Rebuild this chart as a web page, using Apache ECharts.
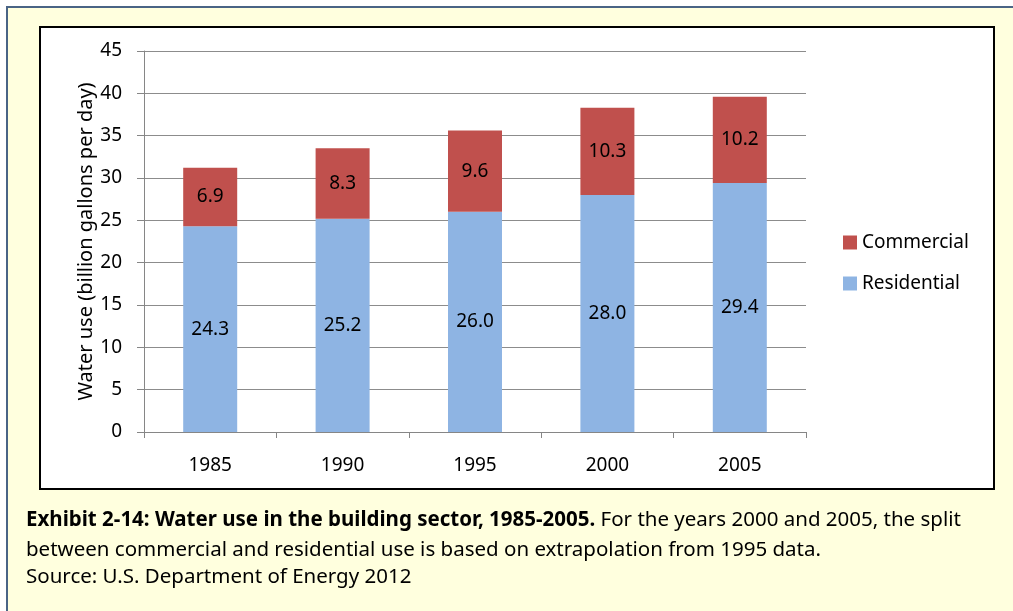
<!DOCTYPE html>
<html>
<head>
<meta charset="utf-8">
<script src="https://cdn.jsdelivr.net/npm/echarts@6/dist/echarts.min.js"></script>
<style>
	html, body {margin: 0; padding: 0; background: #fff;}
	#chart {width: 1013px; height: 611px;}
</style>
</head>
<body>
<div id="chart"></div>
<script>
// data
var years = ['1985', '1990', '1995', '2000', '2005'];
var residential = [24.3, 25.2, 26.0, 28.0, 29.4];
var commercial = [6.9, 8.3, 9.6, 10.3, 10.2];
var seriesNames = ['Commercial', 'Residential'];
var yTitle = 'Water use (billion gallons per day)';
var captionBold = 'Exhibit 2-14: Water use in the building sector, 1985-2005.';
var captionLines = [
	' For the years 2000 and 2005, the split',
	'between commercial and residential use is based on extrapolation from 1995 data.',
	'Source: U.S. Department of Energy 2012'
];

var font = 'Noto Sans';
var myChart = echarts.init(document.getElementById('chart'));

var label = {
	show: true,
	position: 'inside',
	color: '#000',
	fontFamily: font,
	fontSize: 19,
	formatter: function (p) { return p.value.toFixed(1); }
};

var option = {
	animation: false,
	textStyle: {fontFamily: font},
	graphic: [
		// outer yellow panel
		{type: 'rect', z: -10, shape: {x: 7, y: 7, width: 1030, height: 630},
			style: {fill: '#FFFFDE', stroke: '#4A6485', lineWidth: 2}},
		// chart box
		{type: 'rect', z: -9, shape: {x: 40, y: 27, width: 954, height: 462},
			style: {fill: '#fff', stroke: '#000', lineWidth: 2}},
		{type: 'text', left: 26, top: 510, style: {
			text: '{b|' + captionBold + '}' + captionLines[0],
			rich: {b: {fontWeight: 'bold', fontSize: 20.5, fontFamily: font, fill: '#000'}},
			fontSize: 20.5, fontFamily: font, fill: '#000'}},
		{type: 'text', left: 26, top: 540, style: {text: captionLines[1], fontSize: 20.5, fontFamily: font, fill: '#000'}},
		{type: 'text', left: 26, top: 567, style: {text: captionLines[2], fontSize: 20.5, fontFamily: font, fill: '#000'}}
	],
	grid: {left: 144, top: 51, right: 207, bottom: 179},
	legend: {
		orient: 'vertical',
		left: 838,
		top: 228,
		icon: 'rect',
		itemWidth: 14,
		itemHeight: 14,
		itemGap: 22,
		data: seriesNames,
		textStyle: {fontSize: 19, color: '#000', fontFamily: font}
	},
	xAxis: {
		type: 'category',
		data: years,
		axisLine: {lineStyle: {color: '#868686'}},
		axisTick: {show: true, length: 6, lineStyle: {color: '#868686'}},
		axisLabel: {color: '#000', fontSize: 19, margin: 24, fontFamily: font}
	},
	yAxis: {
		type: 'value',
		min: 0,
		max: 45,
		interval: 5,
		name: yTitle,
		nameLocation: 'middle',
		nameGap: 48,
		nameMoveOverlap: false,
		nameTextStyle: {fontSize: 20, color: '#000', fontFamily: font},
		axisLine: {show: true, lineStyle: {color: '#868686'}},
		axisTick: {show: true, length: 7, lineStyle: {color: '#868686'}},
		axisLabel: {color: '#000', fontSize: 19, margin: 22, fontFamily: font},
		splitLine: {lineStyle: {color: '#8C8C8C'}}
	},
	series: [
		{name: 'Residential', type: 'bar', stack: 'total', barWidth: 54,
			itemStyle: {color: '#8EB4E3'}, label: label, data: residential},
		{name: 'Commercial', type: 'bar', stack: 'total', barWidth: 54,
			itemStyle: {color: '#C0504D'}, label: label, data: commercial}
	]
};

myChart.setOption(option);
</script>
</body>
</html>
